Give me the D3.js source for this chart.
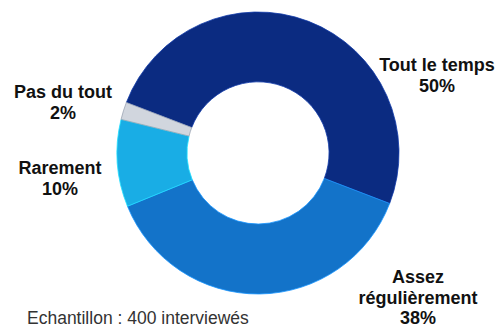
<!DOCTYPE html>
<html><head><meta charset="utf-8">
<script src="https://cdn.jsdelivr.net/npm/d3@7"></script>
<style>html,body{margin:0;padding:0;background:#fff;}svg{display:block;}</style>
</head><body>
<svg id="chart" width="499" height="327"></svg>
<script>
const categories = ["Tout le temps", "Assez régulièrement", "Rarement", "Pas du tout"];
const values = [50, 38, 10, 2];
const labelLines = [["Tout le temps", "50%"], ["Assez", "régulièrement", "38%"], ["Rarement", "10%"], ["Pas du tout", "2%"]];
const colors = ["#0c2d88", "#1479d4", "#1ab6f2", "#dde2ea"];
const footnote = "Echantillon : 400 interviewés";

const svg = d3.select("#chart");
const cx = 258, cy = 153, rOuter = 141, rInner = 71;
const start = -69 * Math.PI / 180;

const defs = svg.append("defs");
colors.forEach((c, i) => {
  const g = defs.append("radialGradient").attr("id", "g" + i)
    .attr("gradientUnits", "userSpaceOnUse").attr("cx", cx).attr("cy", cy).attr("r", rOuter);
  g.append("stop").attr("offset", rInner / rOuter).attr("stop-color", d3.color(c).brighter(0.2));
  g.append("stop").attr("offset", 0.8).attr("stop-color", c);
  g.append("stop").attr("offset", 1).attr("stop-color", d3.color(c).darker(0.15));
});

const pie = d3.pie().sort(null).value(d => d).startAngle(start).endAngle(start + 2 * Math.PI);
const arc = d3.arc().innerRadius(rInner).outerRadius(rOuter);
const g = svg.append("g").attr("transform", `translate(${cx},${cy})`);
g.selectAll("path").data(pie(values)).join("path")
  .attr("d", arc)
  .attr("fill", (d, i) => `url(#g${i})`)
  .attr("stroke", (d, i) => i === 3 ? "#9aa3b3" : d3.color(colors[i]).brighter(0.6))
  .attr("stroke-width", 0.8);

const labelPos = [[437, 71], [418, 283], [60, 174], [63, 98]];
labelLines.forEach((lines, i) => {
  const t = svg.append("text")
    .attr("text-anchor", "middle")
    .attr("font-family", "Liberation Sans, Arial, sans-serif")
    .attr("font-weight", "bold").attr("font-size", 18).attr("fill", "#111");
  lines.forEach((l, j) => t.append("tspan").attr("x", labelPos[i][0]).attr("y", labelPos[i][1] + j * 20.5).text(l));
});

svg.append("text").attr("x", 27).attr("y", 324)
  .attr("font-family", "Liberation Sans, Arial, sans-serif").attr("font-size", 17.5)
  .attr("fill", "#333").text(footnote);
</script>
</body></html>
